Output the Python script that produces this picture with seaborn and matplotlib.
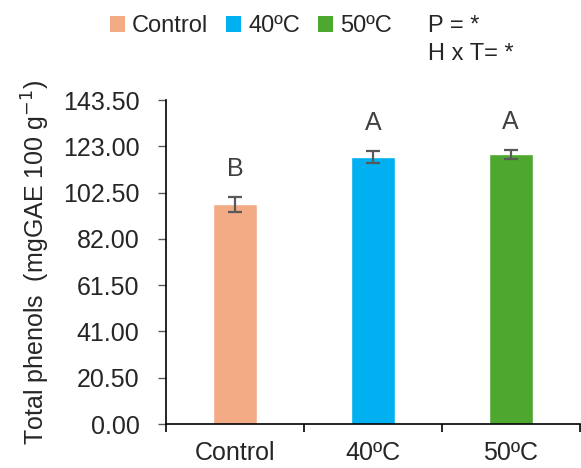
import matplotlib
matplotlib.use("Agg")
import matplotlib.pyplot as plt
import seaborn as sns
import pandas as pd
from matplotlib.patches import Patch

categories = ["Control", "40ºC", "50ºC"]
values = [97.4, 118.2, 119.6]
errors = [3.3, 2.7, 2.0]
letters = ["B", "A", "A"]
colors = ["#F2AB85", "#00B0F0", "#4EA72E"]
yticks = [0.0, 20.5, 41.0, 61.5, 82.0, 102.5, 123.0, 143.5]

sns.set_style("white")
plt.rcParams["font.family"] = ["Liberation Sans", "DejaVu Sans"]
FS = 18

fig = plt.figure(figsize=(5.81, 4.68), dpi=100)
ax = fig.add_axes([0.2857, 0.094, 0.712, 0.692])

df = pd.DataFrame({"cat": categories, "val": values})
sns.barplot(data=df, x="cat", y="val", hue="cat", palette=colors, width=0.32,
            dodge=False, legend=False, ax=ax, saturation=1)
ax.errorbar(range(len(categories)), values, yerr=errors, fmt="none",
            ecolor="#595959", elinewidth=1.6, capsize=5, capthick=1.6)
for i, (v, e, l) in enumerate(zip(values, errors, letters)):
    ax.text(i, v + e + 7, l, ha="center", va="bottom", fontsize=FS, color="#404040")

ax.set_xlim(-0.5, 2.5)
ax.set_ylim(0, 143.5)
ax.set_yticks(yticks)
ax.set_yticklabels([f"{t:.2f}" for t in yticks], fontsize=FS)
ax.set_xticks(range(3))
ax.set_xticklabels(categories, fontsize=FS)
ax.set_xticks([-0.5, 0.5, 1.5, 2.5], minor=True)
ax.tick_params(axis="x", which="major", length=0, pad=12)
ax.tick_params(axis="x", which="minor", length=6, width=1.2, color="black", direction="out", bottom=True)
ax.tick_params(axis="y", length=6, width=1, color="#595959", direction="out", left=True, pad=13)
ax.set_xlabel("")
ax.set_ylabel("Total phenols  (mgGAE 100 g$^{-1}$)", fontsize=FS, labelpad=8)
for s in ["top", "right"]:
    ax.spines[s].set_visible(False)
ax.spines["left"].set_color("black")
ax.spines["bottom"].set_color("black")
ax.spines["left"].set_linewidth(1.2)
ax.spines["bottom"].set_linewidth(1.2)

handles = [Patch(facecolor=c, edgecolor="none", label=l) for c, l in zip(colors, categories)]
fig.legend(handles=handles, loc="center", bbox_to_anchor=(0.432, 0.944), ncol=3, frameon=False,
           fontsize=17, handlelength=0.65, handleheight=0.65, handletextpad=0.3, columnspacing=0.75)
fig.text(0.736, 0.944, "P = *", fontsize=17, va="center", ha="left")
fig.text(0.736, 0.885, "H x T= *", fontsize=17, va="center", ha="left")

fig.savefig("out.png", dpi=100)
